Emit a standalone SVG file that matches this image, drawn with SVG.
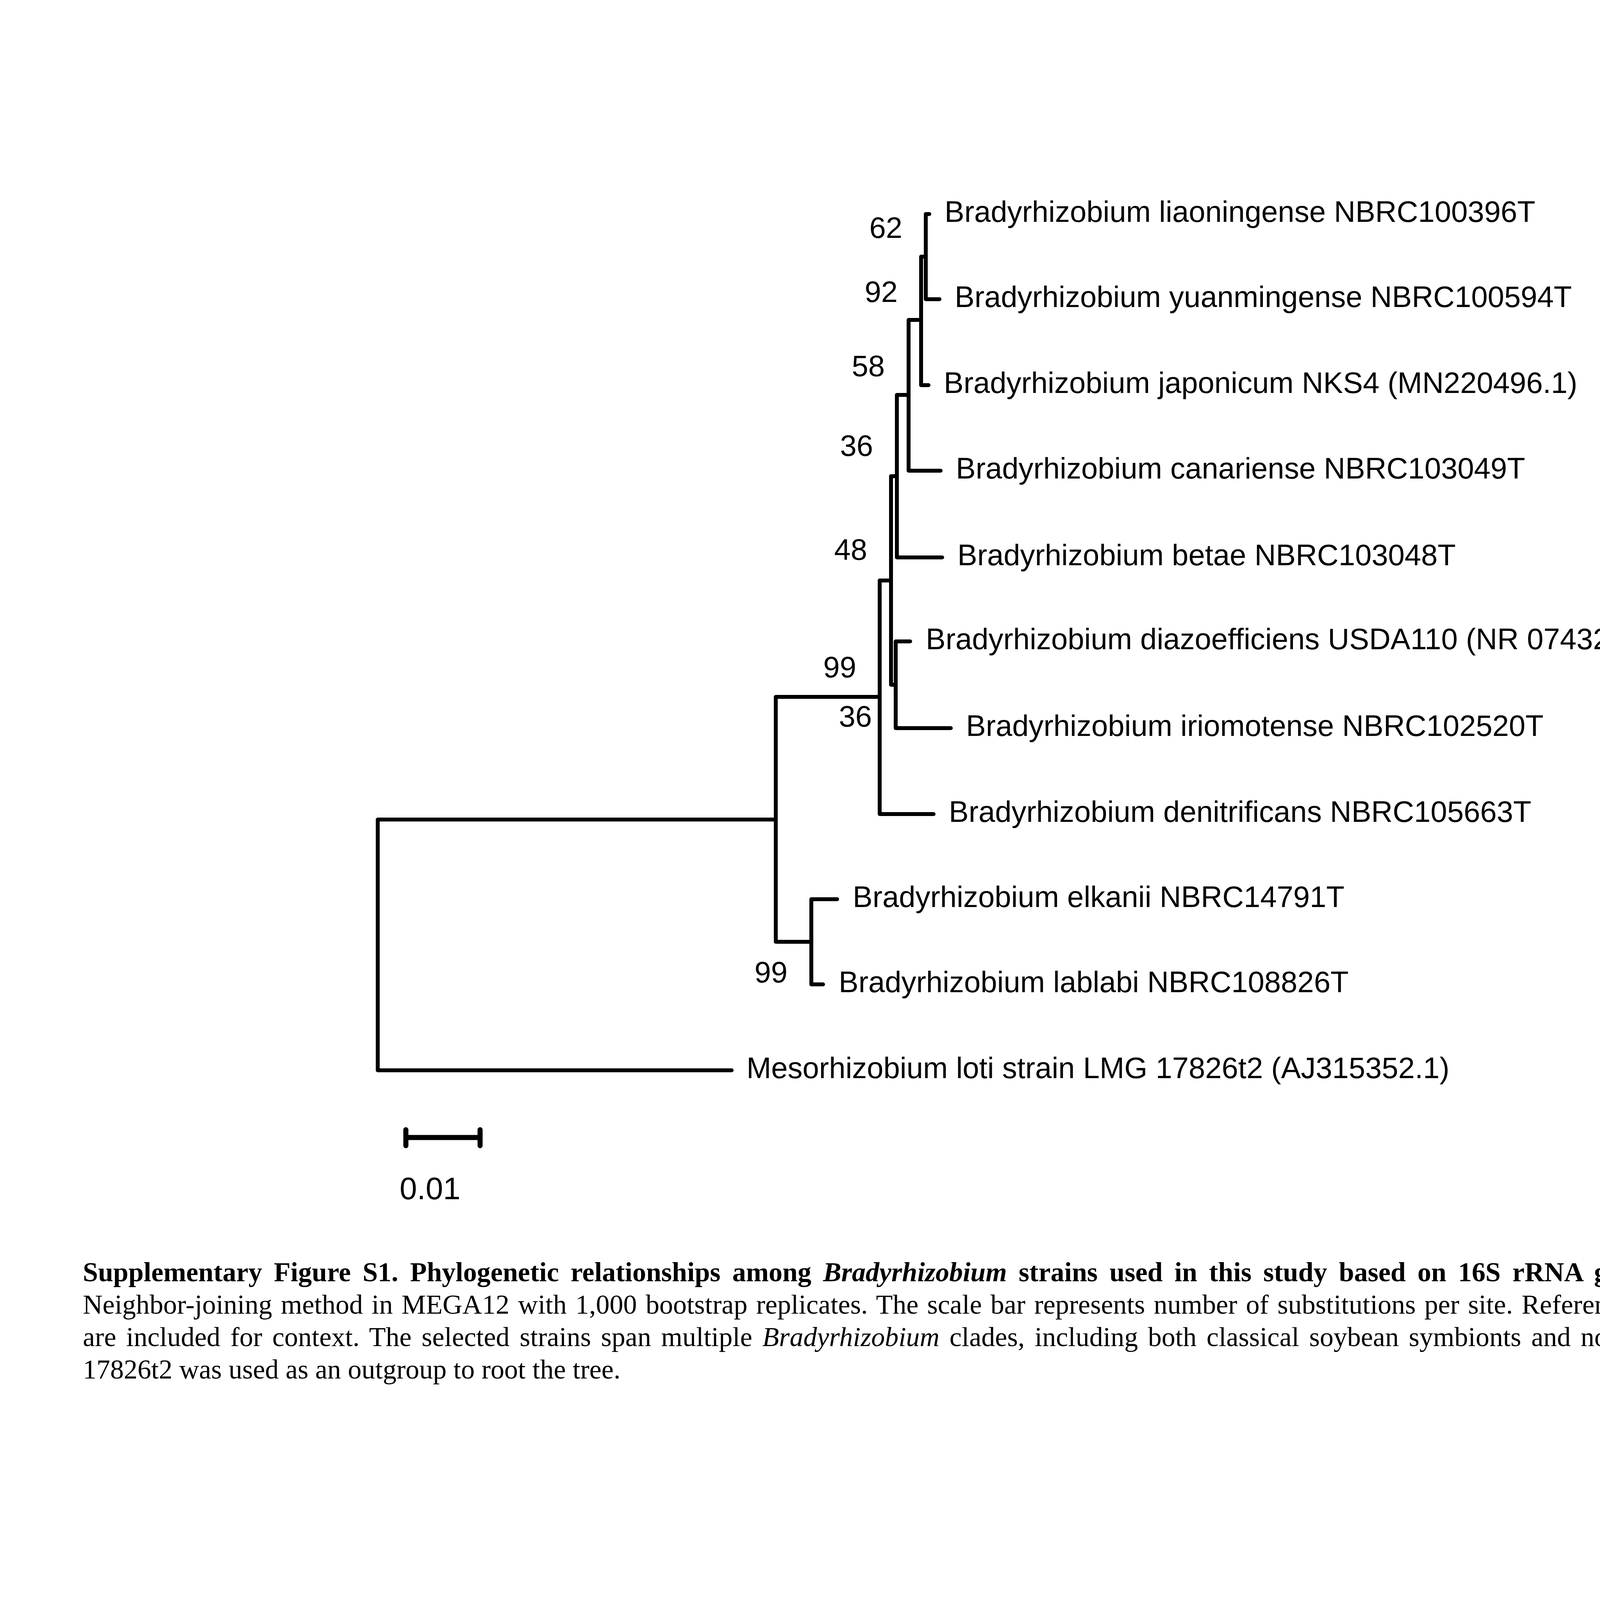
<svg xmlns="http://www.w3.org/2000/svg" width="5847" height="4131" viewBox="0 0 5847 4131">
<style>
.lbl{font-family:"Liberation Sans",Arial,Helvetica,sans-serif;font-size:76px;fill:#000}
.bs{font-family:"Liberation Sans",Arial,Helvetica,sans-serif;font-size:76px;fill:#000;text-anchor:end}
.br{fill:none;stroke:#000;stroke-width:10;stroke-linecap:round;stroke-linejoin:round}
.sb{fill:none;stroke:#000;stroke-width:13;stroke-linecap:round}
.cap{font-family:"Liberation Serif","Times New Roman",serif;font-size:70px;fill:#000}
.b{font-weight:bold}
.i{font-style:italic}
</style>
<rect x="0" y="0" width="5847" height="4131" fill="#fff"/>
<g id="connectors">
<path class="br" d="M967 2419 V2098 H1986"/>
<path class="br" d="M967 2419 V2740 H1873"/>
<path class="br" d="M1986 2098 V1784 H2252"/>
<path class="br" d="M1986 2098 V2411 H2077"/>
<path class="br" d="M2077 2411 V2302 H2143"/>
<path class="br" d="M2077 2411 V2520 H2107"/>
<path class="br" d="M2252 1784 V1486 H2281"/>
<path class="br" d="M2252 1784 V2084 H2390"/>
<path class="br" d="M2281 1486 V1219 H2296"/>
<path class="br" d="M2281 1486 V1753 H2293"/>
<path class="br" d="M2293 1753 V1642 H2330"/>
<path class="br" d="M2293 1753 V1864 H2434"/>
<path class="br" d="M2296 1219 V1011 H2326"/>
<path class="br" d="M2296 1219 V1427 H2412"/>
<path class="br" d="M2326 1012 V819 H2358"/>
<path class="br" d="M2326 1012 V1205 H2408"/>
<path class="br" d="M2358 821 V657 H2370"/>
<path class="br" d="M2358 821 V986 H2377"/>
<path class="br" d="M2370 657 V548 H2379"/>
<path class="br" d="M2370 657 V766 H2405"/>
</g>
<g id="taxon-liaoningense"><text class="lbl" x="2418" y="568">Bradyrhizobium liaoningense NBRC100396T</text></g>
<g id="taxon-yuanmingense"><text class="lbl" x="2444" y="786">Bradyrhizobium yuanmingense NBRC100594T</text></g>
<g id="taxon-japonicum"><text class="lbl" x="2416" y="1006">Bradyrhizobium japonicum NKS4 (MN220496.1)</text></g>
<g id="taxon-canariense"><text class="lbl" x="2447" y="1225">Bradyrhizobium canariense NBRC103049T</text></g>
<g id="taxon-betae"><text class="lbl" x="2451" y="1447">Bradyrhizobium betae NBRC103048T</text></g>
<g id="taxon-diazoefficiens"><text class="lbl" x="2370" y="1662">Bradyrhizobium diazoefficiens USDA110 (NR 074322.1)</text></g>
<g id="taxon-iriomotense"><text class="lbl" x="2473" y="1884">Bradyrhizobium iriomotense NBRC102520T</text></g>
<g id="taxon-denitrificans"><text class="lbl" x="2429" y="2104">Bradyrhizobium denitrificans NBRC105663T</text></g>
<g id="taxon-elkanii"><text class="lbl" x="2183" y="2322">Bradyrhizobium elkanii NBRC14791T</text></g>
<g id="taxon-lablabi"><text class="lbl" x="2147" y="2540">Bradyrhizobium lablabi NBRC108826T</text></g>
<g id="taxon-mesorhizobium"><text class="lbl" x="1911" y="2760">Mesorhizobium loti strain LMG 17826t2 (AJ315352.1)</text></g>
<g id="bootstrap-62"><text class="bs" x="2310" y="609">62</text></g>
<g id="bootstrap-92"><text class="bs" x="2298" y="773">92</text></g>
<g id="bootstrap-58"><text class="bs" x="2265" y="963">58</text></g>
<g id="bootstrap-36a"><text class="bs" x="2235" y="1167">36</text></g>
<g id="bootstrap-48"><text class="bs" x="2220" y="1433">48</text></g>
<g id="bootstrap-99a"><text class="bs" x="2192" y="1734">99</text></g>
<g id="bootstrap-36b"><text class="bs" x="2232" y="1860">36</text></g>
<g id="bootstrap-99b"><text class="bs" x="2016" y="2515">99</text></g>
<g id="scale-bar">
<path class="sb" d="M1039 2912 H1229 M1039 2892 V2933 M1229 2892 V2933"/>
<text class="lbl" x="1023" y="3070" style="font-size:80px">0.01</text>
</g>
<g id="caption">
<text class="cap" x="212" y="3280" word-spacing="12.6"><tspan class="b">Supplementary Figure S1. Phylogenetic relationships among </tspan><tspan class="b i">Bradyrhizobium</tspan><tspan class="b"> strains used in this study based on 16S rRNA gene sequences</tspan>. The tree was constructed using the</text>
<text class="cap" x="212" y="3363" word-spacing="4.8">Neighbor-joining method in MEGA12 with 1,000 bootstrap replicates. The scale bar represents number of substitutions per site. Reference type strains and representative soybean symbionts</text>
<text class="cap" x="212" y="3446" word-spacing="8.1">are included for context. The selected strains span multiple <tspan class="i">Bradyrhizobium</tspan> clades, including both classical soybean symbionts and non-classical lineages. <tspan class="i">Mesorhizobium loti</tspan> strain LMG</text>
<text class="cap" x="212" y="3529">17826t2 was used as an outgroup to root the tree.</text>
</g>
</svg>
